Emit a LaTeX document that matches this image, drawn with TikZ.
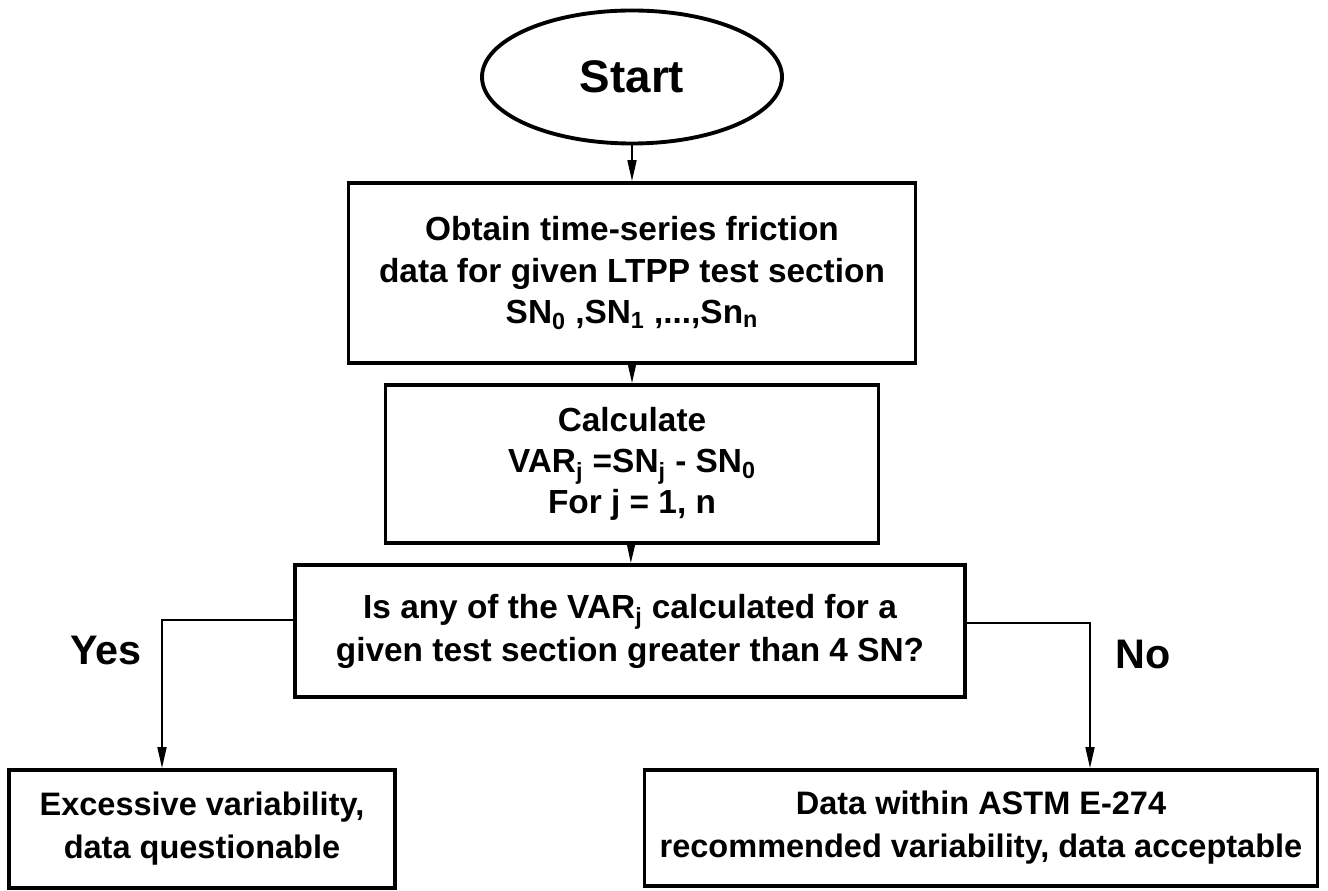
\documentclass[tikz,border=0pt]{standalone}
\usepackage{fontspec}
\setmainfont{Liberation Sans}
\usepackage{tikz}
\usetikzlibrary{shapes,arrows.meta}

\begin{document}
\begin{tikzpicture}

\edef\boxline{2.2pt}
\tikzstyle{flowbox}=[draw,line width=\boxline,align=center,inner sep=0pt,font=\fontsize{19}{23.5}\selectfont\bfseries]
\tikzstyle{endbox}=[flowbox,font=\fontsize{18.5}{24.5}\selectfont\bfseries]
\tikzstyle{startoval}=[draw,ellipse,line width=\boxline,inner sep=0pt,minimum width=6cm,minimum height=2.66cm,font=\fontsize{26}{30}\selectfont\bfseries]
\tikzstyle{flowline}=[line width=1pt,-{Triangle[length=0.42cm,width=0.18cm]}]
\tikzstyle{branchlabel}=[inner sep=0pt,font=\fontsize{23.5}{27}\selectfont\bfseries]

\useasboundingbox (0,0) rectangle (26.56,-17.82);

%% Main column
\node[startoval] (start) at (12.64,-1.54) {Start};
\node[flowbox,minimum width=11.34cm,minimum height=3.6cm] (obtain) at (12.64,-5.46)
    {Obtain time-series friction\\data for given LTPP test section\\SN\textsubscript{0} ,SN\textsubscript{1} ,...,Sn\textsubscript{n}};
\node[flowbox,minimum width=9.86cm,minimum height=3.16cm] (calc) at (12.64,-9.28)
    {Calculate\\VAR\textsubscript{j} =SN\textsubscript{j} - SN\textsubscript{0}\\For j = 1, n};
\node[flowbox,minimum width=13.4cm,minimum height=2.64cm,font=\fontsize{19}{24.5}\selectfont\bfseries] (check) at (12.6,-12.62)
    {Is any of the VAR\textsubscript{j} calculated for a\\given test section greater than 4 SN?};

%% Outcomes
\node[endbox,minimum width=7.72cm,minimum height=2.36cm] (bad) at (4.04,-16.58)
    {Excessive variability,\\data questionable};
\node[endbox,minimum width=13.46cm,minimum height=2.32cm] (good) at (19.62,-16.56)
    {Data within ASTM E-274\\recommended variability, data acceptable};

\node[branchlabel] (yes) at (2.12,-13.0) {Yes};
\node[branchlabel] (no) at (22.86,-13.08) {No};

%% Connectors
\draw[flowline] (start) -- (obtain);
\draw[flowline] (obtain) -- (calc);
\draw[flowline] (calc) -- (check);

\coordinate (yesturn) at (3.24,-12.4);
\coordinate (noturn) at (21.8,-12.46);
\draw[flowline] (check.west |- yesturn) -- (yesturn) -- (yesturn |- bad.north);
\draw[flowline] (check.east |- noturn) -- (noturn) -- (noturn |- good.north);

\end{tikzpicture}
\end{document}
